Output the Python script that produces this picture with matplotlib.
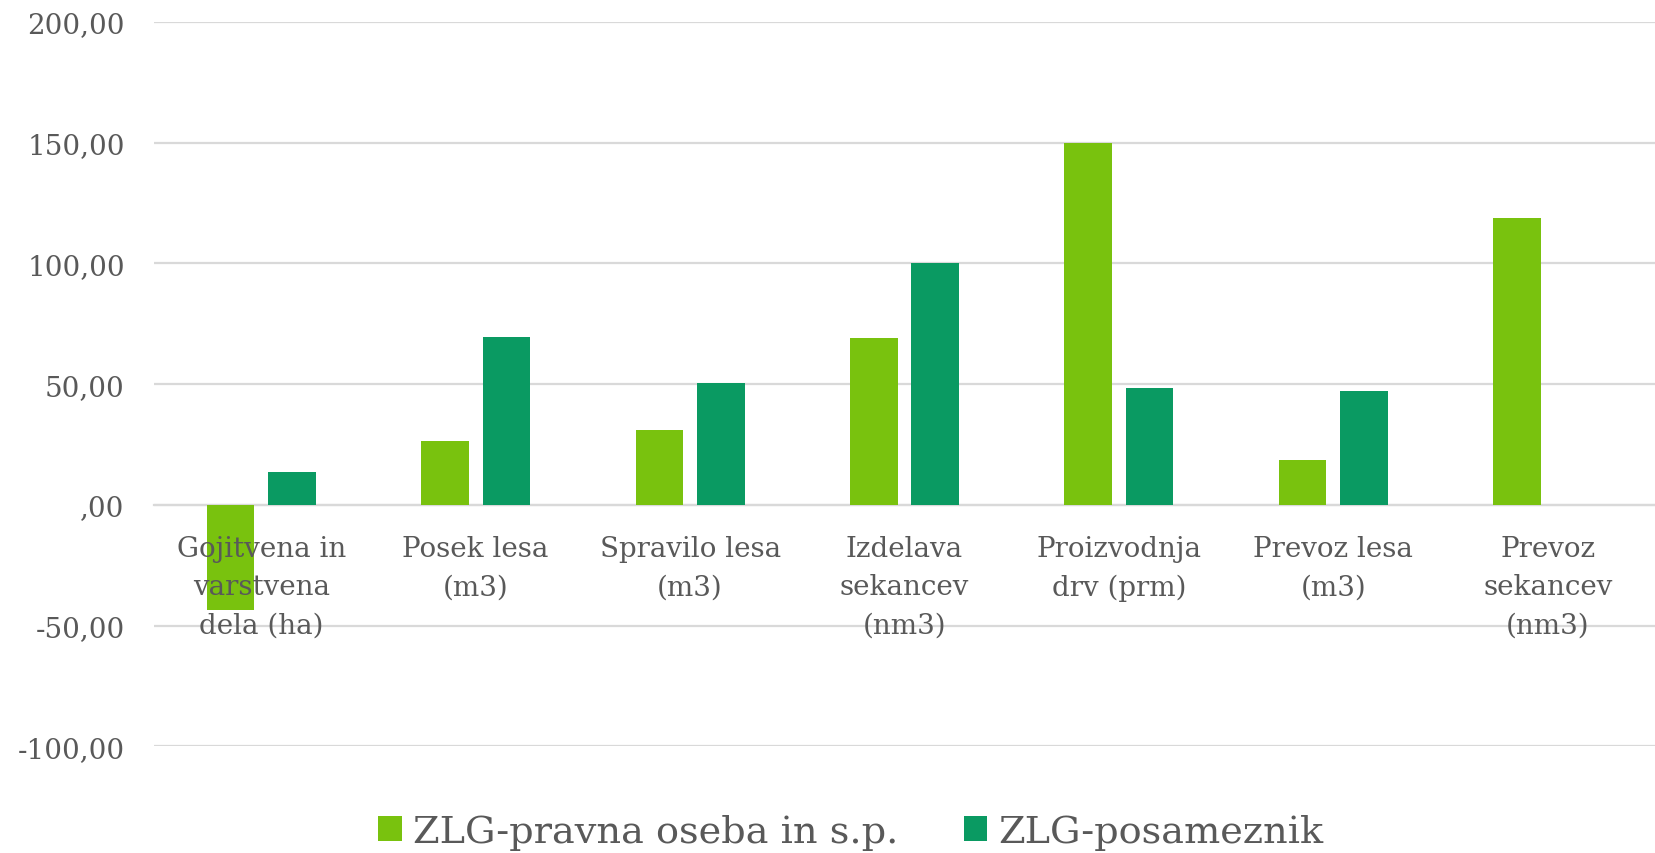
import matplotlib
matplotlib.use("Agg")
import matplotlib.pyplot as plt
import numpy as np
from matplotlib.patches import Patch
from matplotlib.ticker import FixedLocator, FixedFormatter

categories = ["Gojitvena in\nvarstvena\ndela (ha)", "Posek lesa\n(m3)", "Spravilo lesa\n(m3)",
              "Izdelava\nsekancev\n(nm3)", "Proizvodnja\ndrv (prm)", "Prevoz lesa\n(m3)",
              "Prevoz\nsekancev\n(nm3)"]
series_names = ["ZLG-pravna oseba in s.p.", "ZLG-posameznik"]
pravna = [-43.5, 26.3, 30.9, 69.1, 150.0, 18.4, 118.8]
posameznik = [13.8, 69.5, 50.3, 100.0, 48.2, 47.0, 0.0]
y_ticks = [-100, -50, 0, 50, 100, 150, 200]
y_tick_labels = ["-100,00", "-50,00", ",00", "50,00", "100,00", "150,00", "200,00"]

c1 = "#79C20E"
c2 = "#0A9A62"
txt = "#595959"
grid = "#D9D9D9"

plt.rcParams['font.family'] = ['DejaVu Serif']

fig = plt.figure(figsize=(16.55, 8.54), dpi=100)
ax = fig.add_axes([154/1655, 1-747.3/854, 1-154/1655, (747.3-23)/854])

x = np.arange(len(categories))
w = 0.222
off = 0.143
ax.bar(x - off, pravna, w, color=c1, linewidth=0, zorder=3)
ax.bar(x + off, posameznik, w, color=c2, linewidth=0, zorder=3)

ax.set_xlim(-0.5, len(categories) - 0.5)
ax.set_ylim(-100, 200)
ax.yaxis.set_major_locator(FixedLocator(y_ticks))
ax.yaxis.set_major_formatter(FixedFormatter(y_tick_labels))
ax.grid(axis='y', color=grid, linewidth=1.6)
ax.set_axisbelow(True)
ax.xaxis.set_zorder(5)

for s in ["top", "right", "left"]:
    ax.spines[s].set_visible(False)
ax.spines["bottom"].set_position(("data", 0))
ax.spines["bottom"].set_color(grid)
ax.spines["bottom"].set_linewidth(1.6)
ax.spines["bottom"].set_zorder(2)

ax.set_xticks(x)
ax.set_xticklabels(categories, fontsize=20, color=txt, linespacing=1.52)
ax.tick_params(axis='x', length=0, pad=22)
ax.tick_params(axis='y', length=0, pad=21, labelsize=20, labelcolor=txt)

handles = [Patch(facecolor=c1, edgecolor='none'), Patch(facecolor=c2, edgecolor='none')]
leg = fig.legend(handles, series_names, loc='center', bbox_to_anchor=(851/1655, 1-833/854),
                 ncol=2, frameon=False, fontsize=27.5, handlelength=0.62, handleheight=0.62,
                 handletextpad=0.3, columnspacing=1.7, borderaxespad=0, borderpad=0)
for t in leg.get_texts():
    t.set_color(txt)

fig.savefig("out.png", dpi=100)
